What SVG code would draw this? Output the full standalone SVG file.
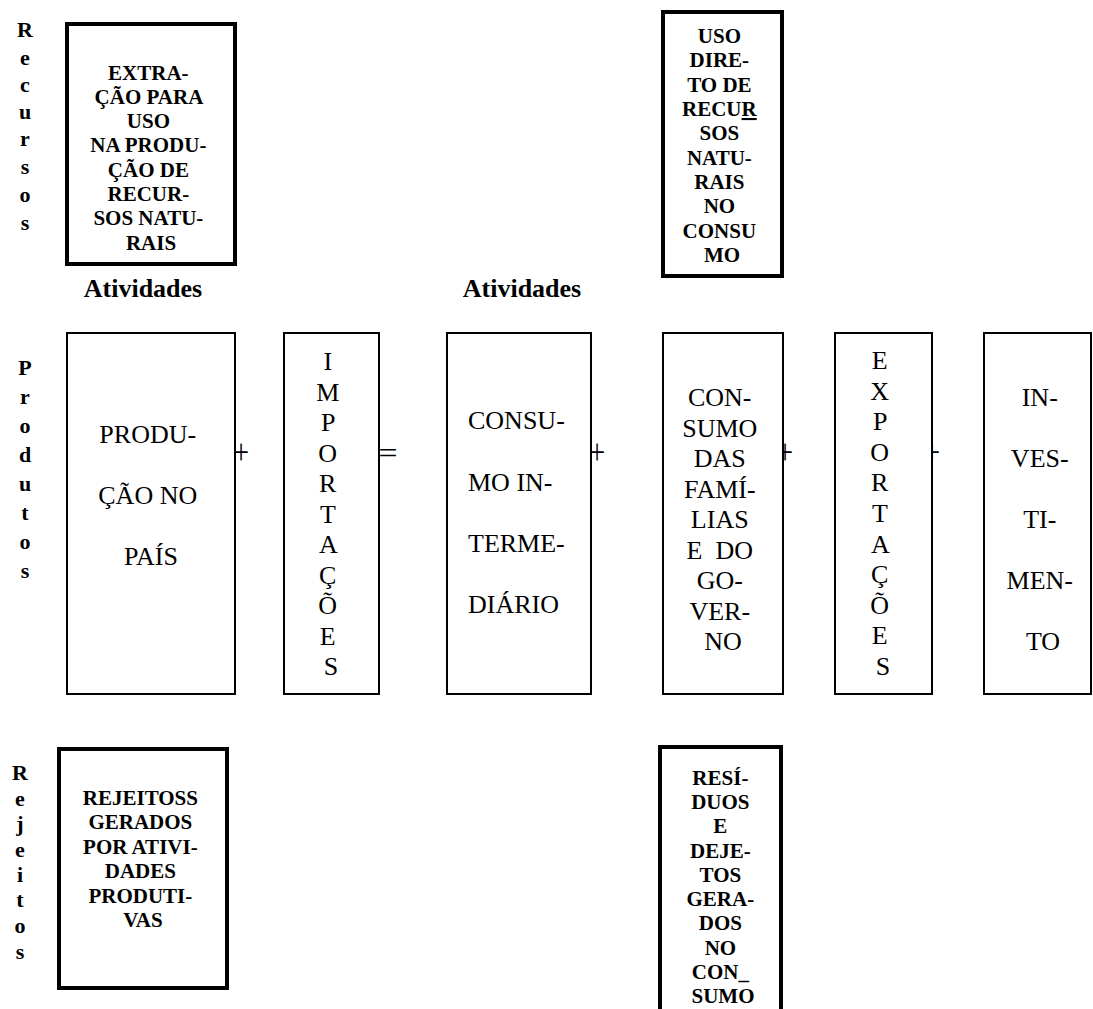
<svg xmlns="http://www.w3.org/2000/svg" width="1093" height="1009" viewBox="0 0 1093 1009">
<style>
  .heavy { fill: #ffffff; stroke: #000000; stroke-width: 4; }
  .thin { fill: #ffffff; stroke: #000000; stroke-width: 2; }
  .b { font-family: "Liberation Serif", "Times New Roman", serif; font-weight: bold; font-size: 21px; fill: #000; text-anchor: middle; }
  .r { font-family: "Liberation Serif", "Times New Roman", serif; font-size: 26px; fill: #000; text-anchor: middle; }
  .rl { font-family: "Liberation Serif", "Times New Roman", serif; font-size: 26px; fill: #000; text-anchor: start; }
  .lbl { font-family: "Liberation Serif", "Times New Roman", serif; font-weight: bold; font-size: 26px; fill: #000; text-anchor: middle; }
  .side { font-family: "Liberation Serif", "Times New Roman", serif; font-weight: bold; font-size: 22px; fill: #000; text-anchor: middle; }
  .op { font-family: "Liberation Serif", "Times New Roman", serif; font-size: 26px; fill: #000; text-anchor: middle; }
</style>
<rect x="0" y="0" width="1093" height="1009" fill="#ffffff"/>

<!-- row labels -->
<g id="label-recursos">
  <text class="side" x="25" y="37">R</text>
  <text class="side" x="25" y="65">e</text>
  <text class="side" x="25" y="92">c</text>
  <text class="side" x="25" y="119">u</text>
  <text class="side" x="25" y="146">r</text>
  <text class="side" x="25" y="174">s</text>
  <text class="side" x="25" y="202">o</text>
  <text class="side" x="25" y="230">s</text>
</g>
<g id="label-produtos">
  <text class="side" x="25" y="375">P</text>
  <text class="side" x="25" y="404">r</text>
  <text class="side" x="25" y="433">o</text>
  <text class="side" x="25" y="462">d</text>
  <text class="side" x="25" y="491">u</text>
  <text class="side" x="25" y="520">t</text>
  <text class="side" x="25" y="549">o</text>
  <text class="side" x="25" y="578">s</text>
</g>
<g id="label-rejeitos">
  <text class="side" x="20" y="780">R</text>
  <text class="side" x="20" y="806">e</text>
  <text class="side" x="20" y="831">j</text>
  <text class="side" x="20" y="857">e</text>
  <text class="side" x="20" y="882">i</text>
  <text class="side" x="20" y="907">t</text>
  <text class="side" x="20" y="933">o</text>
  <text class="side" x="20" y="959">s</text>
</g>
<g id="label-atividades-1"><text class="lbl" x="143" y="297">Atividades</text></g>
<g id="label-atividades-2"><text class="lbl" x="522" y="297">Atividades</text></g>

<!-- operators (drawn beneath boxes) -->
<g id="connectors">
  <text class="op" transform="translate(241,455) scale(1.1,1.4)" x="0" y="6.6">+</text>
  <text class="op" transform="translate(388,456) scale(1.3,1.1)" x="0" y="6.6">=</text>
  <text class="op" transform="translate(597,455) scale(1.1,1.4)" x="0" y="6.6">+</text>
  <text class="op" transform="translate(785,455) scale(1.1,1.4)" x="0" y="6.6">+</text>
  <text class="op" transform="translate(932,455) scale(1.1,1.4)" x="0" y="6.6">+</text>
</g>

<!-- Recursos row -->
<g id="node-extracao">
  <rect class="heavy" x="67" y="24" width="168" height="240"/>
  <text class="b">
    <tspan x="151" y="80">EXTRA-</tspan>
    <tspan x="151" y="104">ÇÃO PARA</tspan>
    <tspan x="151" y="128">USO</tspan>
    <tspan x="151" y="152">NA PRODU-</tspan>
    <tspan x="151" y="177">ÇÃO DE</tspan>
    <tspan x="151" y="201">RECUR-</tspan>
    <tspan x="151" y="225">SOS NATU-</tspan>
    <tspan x="151" y="250">RAIS</tspan>
  </text>
</g>
<g id="node-uso-direto">
  <rect class="heavy" x="663" y="12" width="119" height="264"/>
  <text class="b">
    <tspan x="722" y="43">USO</tspan>
    <tspan x="722" y="67">DIRE-</tspan>
    <tspan x="722" y="92">TO DE</tspan>
    <tspan x="722" y="116">RECU<tspan text-decoration="underline">R</tspan></tspan>
    <tspan x="722" y="140">SOS</tspan>
    <tspan x="722" y="165">NATU-</tspan>
    <tspan x="722" y="189">RAIS</tspan>
    <tspan x="722" y="213">NO</tspan>
    <tspan x="722" y="238">CONSU</tspan>
    <tspan x="722" y="262">MO</tspan>
  </text>
</g>

<!-- Produtos row -->
<g id="node-producao">
  <rect class="thin" x="67" y="333" width="168" height="361"/>
  <text class="r">
    <tspan x="151" y="443">PRODU-</tspan>
    <tspan x="151" y="504">ÇÃO NO</tspan>
    <tspan x="151" y="565">PAÍS</tspan>
  </text>
</g>
<g id="node-importacoes">
  <rect class="thin" x="284" y="333" width="95" height="361"/>
  <text class="r">
    <tspan x="331" y="370">I</tspan>
    <tspan x="331" y="400.5">M</tspan>
    <tspan x="331" y="431">P</tspan>
    <tspan x="331" y="461.5">O</tspan>
    <tspan x="331" y="492">R</tspan>
    <tspan x="331" y="522.5">T</tspan>
    <tspan x="331" y="553">A</tspan>
    <tspan x="331" y="583.5">Ç</tspan>
    <tspan x="331" y="614">Õ</tspan>
    <tspan x="331" y="644.5">E</tspan>
    <tspan x="331" y="675">S</tspan>
  </text>
</g>
<g id="node-consumo-intermediario">
  <rect class="thin" x="447" y="333" width="144" height="361"/>
  <text class="rl">
    <tspan x="468" y="429">CONSU-</tspan>
    <tspan x="468" y="491">MO IN-</tspan>
    <tspan x="468" y="552">TERME-</tspan>
    <tspan x="468" y="613">DIÁRIO</tspan>
  </text>
</g>
<g id="node-consumo-familias">
  <rect class="thin" x="663" y="333" width="120" height="361"/>
  <text class="r">
    <tspan x="723" y="406">CON-</tspan>
    <tspan x="723" y="436.5">SUMO</tspan>
    <tspan x="723" y="467">DAS</tspan>
    <tspan x="723" y="497.5">FAMÍ-</tspan>
    <tspan x="723" y="528">LIAS</tspan>
    <tspan x="723" y="558.5" xml:space="preserve">E  DO</tspan>
    <tspan x="723" y="589">GO-</tspan>
    <tspan x="723" y="619.5">VER-</tspan>
    <tspan x="723" y="650">NO</tspan>
  </text>
</g>
<g id="node-exportacoes">
  <rect class="thin" x="835" y="333" width="97" height="361"/>
  <text class="r">
    <tspan x="883" y="369">E</tspan>
    <tspan x="883" y="399.6">X</tspan>
    <tspan x="883" y="430.2">P</tspan>
    <tspan x="883" y="460.8">O</tspan>
    <tspan x="883" y="491.4">R</tspan>
    <tspan x="883" y="522">T</tspan>
    <tspan x="883" y="552.6">A</tspan>
    <tspan x="883" y="583.2">Ç</tspan>
    <tspan x="883" y="613.8">Õ</tspan>
    <tspan x="883" y="644.4">E</tspan>
    <tspan x="883" y="675">S</tspan>
  </text>
</g>
<g id="node-investimento">
  <rect class="thin" x="984" y="333" width="107" height="361"/>
  <text class="r">
    <tspan x="1043" y="406">IN-</tspan>
    <tspan x="1043" y="467">VES-</tspan>
    <tspan x="1043" y="528">TI-</tspan>
    <tspan x="1043" y="589">MEN-</tspan>
    <tspan x="1043" y="650">TO</tspan>
  </text>
</g>

<!-- Rejeitos row -->
<g id="node-rejeitos">
  <rect class="heavy" x="59" y="749" width="168" height="239"/>
  <text class="b">
    <tspan x="143" y="805">REJEITOSS</tspan>
    <tspan x="143" y="829">GERADOS</tspan>
    <tspan x="143" y="854">POR ATIVI-</tspan>
    <tspan x="143" y="878">DADES</tspan>
    <tspan x="143" y="903">PRODUTI-</tspan>
    <tspan x="143" y="927">VAS</tspan>
  </text>
</g>
<g id="node-residuos">
  <rect class="heavy" x="660" y="747" width="121" height="275"/>
  <text class="b">
    <tspan x="723" y="785">RESÍ-</tspan>
    <tspan x="723" y="809">DUOS</tspan>
    <tspan x="723" y="833">E</tspan>
    <tspan x="723" y="858">DEJE-</tspan>
    <tspan x="723" y="882">TOS</tspan>
    <tspan x="723" y="906">GERA-</tspan>
    <tspan x="723" y="930">DOS</tspan>
    <tspan x="723" y="955">NO</tspan>
    <tspan x="723" y="979">CON_</tspan>
    <tspan x="723" y="1003">SUMO</tspan>
  </text>
</g>
</svg>
